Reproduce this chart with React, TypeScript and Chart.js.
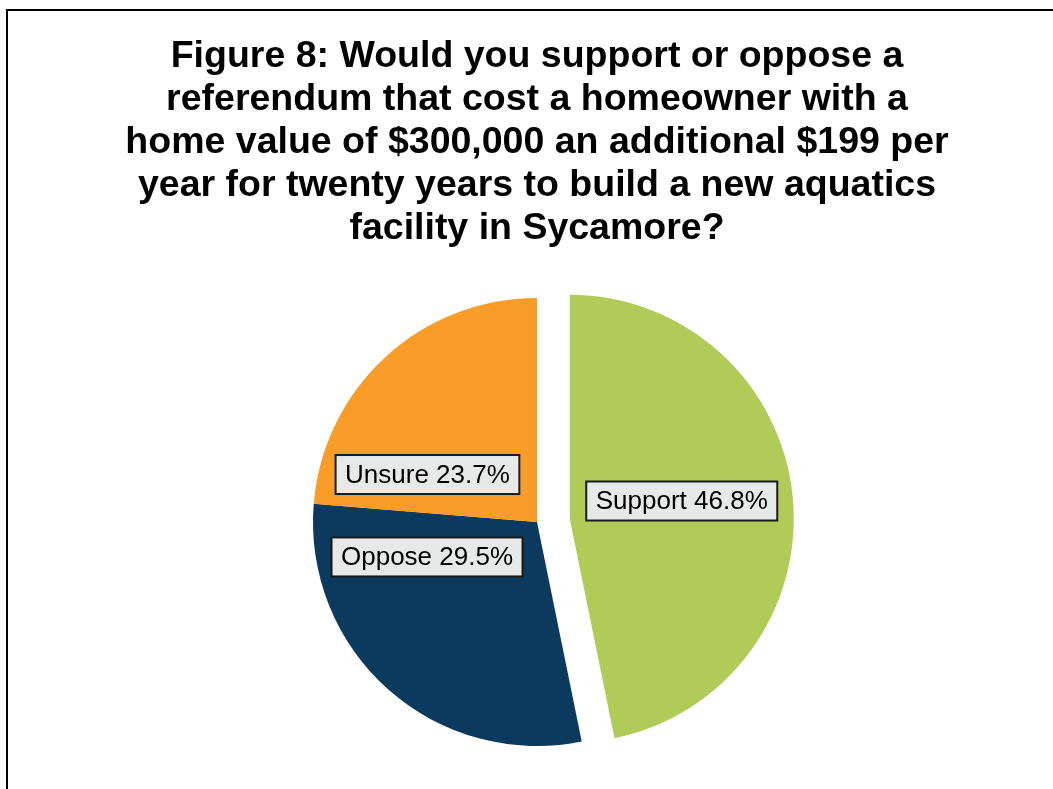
import React, { useEffect, useRef } from "react";
import { Chart, registerables } from "chart.js";

Chart.register(...registerables);

const titleLines = [
  "Figure 8: Would you support or oppose a",
  "referendum that cost a homeowner with a",
  "home value of $300,000 an additional $199 per",
  "year for twenty years to build a new aquatics",
  "facility in Sycamore?",
];
const categories = ["Support", "Oppose", "Unsure"];
const percentages = [46.8, 29.5, 23.7];
const sliceColors = ["#B0CB57", "#0B3A5E", "#F99D28"];
const explodedSlice = [0.147, 0, 0];
// label box centre relative to slice apex, in units of pie radius
const labelOffsetX = [0.5, -0.491, -0.489];
const labelOffsetY = [-0.079, 0.156, -0.212];

const explodePlugin = {
  id: "explode",
  afterDatasetUpdate(chart: any, args: any) {
    const meta = args.meta;
    meta.data.forEach((arc: any, i: number) => {
      const f = explodedSlice[i] || 0;
      if (!f) return;
      const mid = (arc.startAngle + arc.endAngle) / 2;
      const d = f * arc.outerRadius;
      arc.x += Math.cos(mid) * d;
      arc.y += Math.sin(mid) * d;
    });
  },
};

const labelPlugin = {
  id: "boxLabels",
  afterDatasetsDraw(chart: any) {
    const ctx = chart.ctx;
    const meta = chart.getDatasetMeta(0);
    ctx.save();
    ctx.font = '26px "Liberation Sans", Arial, sans-serif';
    ctx.textAlign = "center";
    ctx.textBaseline = "middle";
    meta.data.forEach((arc: any, i: number) => {
      const r = arc.outerRadius;
      const cx = arc.x + labelOffsetX[i] * r;
      const cy = arc.y + labelOffsetY[i] * r;
      const text = `${categories[i]} ${percentages[i].toFixed(1)}%`;
      const w = ctx.measureText(text).width + 19;
      const h = 39;
      ctx.fillStyle = "#E7E8E8";
      ctx.fillRect(cx - w / 2, cy - h / 2, w, h);
      ctx.lineWidth = 2;
      ctx.strokeStyle = "#1a1a1a";
      ctx.strokeRect(cx - w / 2, cy - h / 2, w, h);
      ctx.fillStyle = "#000000";
      ctx.fillText(text, cx, cy + 1);
    });
    ctx.restore();
  },
};

export default function App() {
  const ref = useRef<HTMLCanvasElement>(null);
  useEffect(() => {
    if (!ref.current) return;
    const chart = new Chart(ref.current, {
      type: "pie",
      data: {
        labels: categories,
        datasets: [
          {
            data: percentages,
            backgroundColor: sliceColors,
            borderWidth: 0,
          },
        ],
      },
      options: {
        responsive: false,
        animation: false,
        events: [],
        radius: 224,
        layout: { padding: { left: 21, right: 0, top: 10, bottom: 1.5 } },
        plugins: {
          legend: { display: false },
          tooltip: { enabled: false },
          title: {
            display: true,
            text: titleLines,
            color: "#000000",
            font: {
              family: '"Liberation Sans", Arial, sans-serif',
              size: 37.5,
              weight: "bold",
              lineHeight: 43 / 37.5,
            },
            padding: { top: 25.5, bottom: 6 },
          },
        },
      } as any,
      plugins: [explodePlugin, labelPlugin],
    });
    return () => chart.destroy();
  }, []);

  return (
    <>
      <div
        style={{
          position: "absolute",
          left: 6,
          top: 9,
          width: 1047,
          height: 780,
          borderTop: "2px solid #000",
          borderLeft: "2px solid #000",
          boxSizing: "border-box",
          background: "#fff",
        }}
      />
      <canvas
        ref={ref}
        width={1053}
        height={789}
        style={{ position: "absolute", left: 0, top: 0, width: 1053, height: 789 }}
      />
    </>
  );
}
